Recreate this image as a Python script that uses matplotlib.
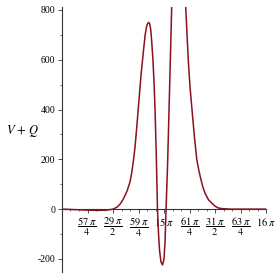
import numpy as np
import matplotlib
matplotlib.use("Agg")
import matplotlib.pyplot as plt
from matplotlib.ticker import MultipleLocator

# V + Q against x, x given in units of pi
x_pi = [14.000, 14.127, 14.255, 14.353, 14.431, 14.471, 14.500, 14.539,
        14.569, 14.598, 14.637, 14.667, 14.685, 14.700, 14.716, 14.735,
        14.755, 14.775, 14.797, 14.815, 14.830, 14.840, 14.850, 14.860,
        14.870, 14.880, 14.892, 14.902, 14.912, 14.924, 14.936, 14.945,
        14.956, 14.970, 14.985, 15.000, 15.010, 15.020, 15.035, 15.049,
        15.062, 15.075, 15.090, 15.150, 15.200, 15.213, 15.238, 15.255,
        15.275, 15.298, 15.321, 15.340, 15.360, 15.380, 15.402, 15.435,
        15.468, 15.500, 15.529, 15.570, 15.650, 16.000]
vq = [0, -2, -4, -5, -4, -2, 0, 8,
      20, 38, 72, 110, 150, 195, 250, 340,
      440, 540, 630, 700, 735, 746, 750, 744,
      720, 670, 596, 510, 400, 220, 0, -90,
      -165, -212, -224, -200, -130, 0, 180, 396,
      600, 808, 1050, 1500, 1000, 808, 596, 490,
      396, 290, 200, 158, 122, 90, 64, 38,
      24, 12, 5, 2, 0, 0]

xtick_pos = [57 / 4, 29 / 2, 59 / 4, 15, 61 / 4, 31 / 2, 63 / 4, 16]
xtick_lab = [r"$\dfrac{57\;\pi}{4}$", r"$\dfrac{29\;\pi}{2}$", r"$\dfrac{59\;\pi}{4}$",
             r"$15\;\pi$", r"$\dfrac{61\;\pi}{4}$", r"$\dfrac{31\;\pi}{2}$",
             r"$\dfrac{63\;\pi}{4}$", r"$16\;\pi$"]
yticks = [-200, 0, 200, 400, 600, 800]

plt.rcParams["font.family"] = ["Liberation Serif", "DejaVu Serif"]
plt.rcParams["mathtext.fontset"] = "stix"
plt.rcParams["axes.unicode_minus"] = False

fig = plt.figure(figsize=(2.78, 2.78), dpi=100)
ax = fig.add_axes([0.223, 0.022, 0.734, 0.953])

ax.plot(np.array(x_pi) * np.pi, vq, color="#8B1020", lw=1.1)

ax.set_xlim(14 * np.pi, 16 * np.pi)
ax.set_ylim(-252, 812)

for s in ("top", "right"):
    ax.spines[s].set_visible(False)
ax.spines["bottom"].set_position(("data", 0))
ax.spines["left"].set_color("#333333")
ax.spines["bottom"].set_color("#333333")

ax.set_xticks(np.array(xtick_pos) * np.pi)
ax.set_xticklabels(xtick_lab, fontsize=7.5)
ax.xaxis.set_minor_locator(MultipleLocator(np.pi / 12))
ax.set_yticks(yticks)
ax.set_yticklabels([str(v) for v in yticks], fontsize=7)
ax.yaxis.set_minor_locator(MultipleLocator(100))
ax.tick_params(axis="both", which="major", length=3, width=0.6, color="#333333", pad=2)
ax.tick_params(axis="both", which="minor", length=1.5, width=0.5, color="#333333")

ax.set_ylabel(r"$V\, +\, Q$", rotation=0, fontsize=9)
ax.yaxis.set_label_coords(-0.19, 0.5)

fig.savefig("out.png", dpi=100)
